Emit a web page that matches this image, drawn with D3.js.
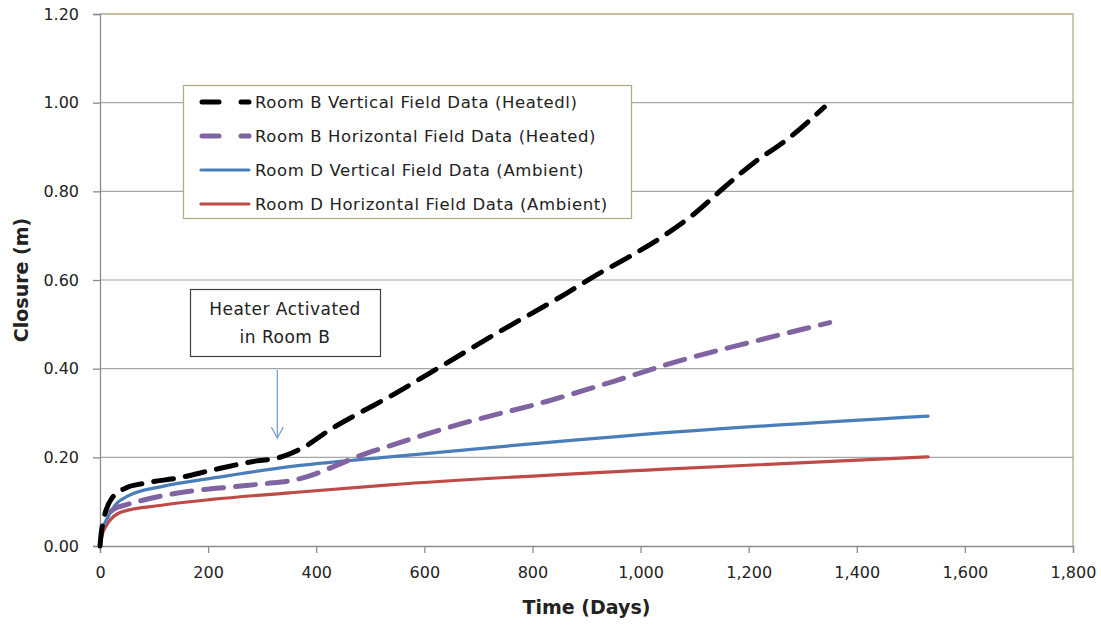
<!DOCTYPE html>
<html lang="en">
<head>
  <meta charset="UTF-8">
  <title>Closure vs Time</title>
  <script src="https://d3js.org/d3.v7.min.js"></script>
  <style>
    body { margin: 0; background: #fff; }
    svg text { font-family: "DejaVu Sans", "Liberation Sans", sans-serif; fill: #222; }
  </style>
</head>
<body>
<script>
  // Field data (days, closure in m)
  const bVertDays = [0, 3, 22, 50, 80, 151, 207, 290, 330, 345, 380, 425, 480, 536, 610, 734, 863, 918, 980, 1042, 1100, 1153, 1208, 1270, 1340];
  const bVertVals = [0, 0.036, 0.108, 0.132, 0.141, 0.155, 0.171, 0.192, 0.199, 0.205, 0.225, 0.262, 0.30, 0.337, 0.39, 0.48, 0.570, 0.611, 0.653, 0.699, 0.75, 0.807, 0.863, 0.916, 0.99];

  const bHorzDays = [20, 28, 46, 114, 176, 250, 308, 350, 382, 430, 475, 536, 672, 826, 949, 1067, 1221, 1350];
  const bHorzVals = [0.078, 0.085, 0.092, 0.113, 0.125, 0.134, 0.141, 0.147, 0.156, 0.178, 0.201, 0.226, 0.277, 0.326, 0.371, 0.416, 0.465, 0.504];

  const dVertDays = [0, 3, 15, 28, 52, 114, 207, 351, 536, 1073, 1532];
  const dVertVals = [0, 0.03, 0.066, 0.092, 0.113, 0.134, 0.153, 0.179, 0.201, 0.258, 0.293];

  const dHorzDays = [0, 3, 12, 40, 114, 207, 351, 536, 1036, 1532];
  const dHorzVals = [0, 0.02, 0.047, 0.077, 0.092, 0.105, 0.12, 0.138, 0.173, 0.201];

  const seriesNames = [
    "Room B Vertical Field Data (Heatedl)",
    "Room B Horizontal Field Data (Heated)",
    "Room D Vertical Field Data (Ambient)",
    "Room D Horizontal Field Data (Ambient)"
  ];
  const xTicks = [0, 200, 400, 600, 800, 1000, 1200, 1400, 1600, 1800];
  const yTicks = [0, 0.2, 0.4, 0.6, 0.8, 1.0, 1.2];

  const series = [
    { name: seriesNames[0], days: bVertDays, vals: bVertVals, color: "#000000", dash: "20,12" },
    { name: seriesNames[1], days: bHorzDays, vals: bHorzVals, color: "#8064a2", dash: "20,12" },
    { name: seriesNames[2], days: dVertDays, vals: dVertVals, color: "#4a7ebb", dash: null },
    { name: seriesNames[3], days: dHorzDays, vals: dHorzVals, color: "#be4b48", dash: null }
  ];

  const width = 1101, height = 625;
  const margin = { left: 100, right: 28, top: 14, bottom: 79 };

  const svg = d3.select("body").append("svg")
    .attr("width", width)
    .attr("height", height);

  const x = d3.scaleLinear().domain([0, 1800]).range([margin.left, width - margin.right]);
  const y = d3.scaleLinear().domain([0, 1.2]).range([height - margin.bottom, margin.top]);

  // gridlines
  svg.append("g").selectAll("line")
    .data(yTicks.slice(1, -1))
    .enter().append("line")
    .attr("x1", x(0)).attr("x2", x(1800))
    .attr("y1", d => y(d)).attr("y2", d => y(d))
    .attr("stroke", "#a6a6a6").attr("stroke-width", 1.2);

  // plot border top/right (tan)
  svg.append("path")
    .attr("d", `M${x(0)},${y(1.2)}H${x(1800)}V${y(0)}`)
    .attr("fill", "none").attr("stroke", "#b3ab84").attr("stroke-width", 1.3);

  // axes
  const yAxis = d3.axisLeft(y).tickValues(yTicks).tickFormat(d3.format(".2f")).tickSize(7).tickPadding(14);
  const gy = svg.append("g").attr("transform", `translate(${x(0)},0)`).call(yAxis);
  const xAxis = d3.axisBottom(x).tickValues(xTicks).tickFormat(d3.format(",")).tickSize(7).tickPadding(14);
  const gx = svg.append("g").attr("transform", `translate(0,${y(0)})`).call(xAxis);
  [gx, gy].forEach(g => {
    g.select(".domain").attr("stroke", "#8c8c8c").attr("stroke-width", 1.3);
    g.selectAll(".tick line").attr("stroke", "#8c8c8c").attr("stroke-width", 1.3);
    g.selectAll(".tick text").style("font-size", "16px").attr("fill", "#222");
  });

  // lines
  const line = d3.line()
    .x(d => x(d[0]))
    .y(d => y(d[1]))
    .curve(d3.curveMonotoneX);

  // solid first, dashed on top
  const drawOrder = [3, 2, 1, 0];
  drawOrder.forEach(i => {
    const s = series[i];
    const pts = s.days.map((dd, k) => [dd, s.vals[k]]);
    svg.append("path")
      .datum(pts)
      .attr("d", line)
      .attr("fill", "none")
      .attr("stroke", s.color)
      .attr("stroke-width", s.dash ? 5 : 3.2)
      .attr("stroke-linecap", "round")
      .attr("stroke-dasharray", s.dash);
  });

  // legend
  const leg = svg.append("g");
  leg.append("rect")
    .attr("x", 183.5).attr("y", 85.5)
    .attr("width", 448).attr("height", 133)
    .attr("fill", "#fff").attr("stroke", "#b3ab84").attr("stroke-width", 1.3);
  series.forEach((s, i) => {
    const ly = 102 + i * 34;
    if (s.dash) {
      leg.append("line").attr("x1", 202).attr("x2", 219).attr("y1", ly).attr("y2", ly)
        .attr("stroke", s.color).attr("stroke-width", 5).attr("stroke-linecap", "round");
      leg.append("line").attr("x1", 241).attr("x2", 249).attr("y1", ly).attr("y2", ly)
        .attr("stroke", s.color).attr("stroke-width", 5).attr("stroke-linecap", "round");
    } else {
      leg.append("line").attr("x1", 201).attr("x2", 249).attr("y1", ly).attr("y2", ly)
        .attr("stroke", s.color).attr("stroke-width", 3.2).attr("stroke-linecap", "round");
    }
    leg.append("text").attr("x", 255).attr("y", ly).attr("dy", "0.35em")
      .style("font-size", "16.5px").style("letter-spacing", "0.6px").text(s.name);
  });

  // annotation
  svg.append("rect")
    .attr("x", 190.5).attr("y", 289.5).attr("width", 190).attr("height", 67)
    .attr("fill", "#fff").attr("stroke", "#404040").attr("stroke-width", 1.2);
  svg.append("text").attr("x", 285).attr("y", 315).attr("text-anchor", "middle")
    .style("font-size", "17px").style("letter-spacing", "0.5px").text("Heater Activated");
  svg.append("text").attr("x", 285).attr("y", 343).attr("text-anchor", "middle")
    .style("font-size", "17px").style("letter-spacing", "0.5px").text("in Room B");
  const ax = x(328);
  svg.append("line").attr("x1", ax).attr("x2", ax).attr("y1", 370).attr("y2", 438)
    .attr("stroke", "#6a9bd0").attr("stroke-width", 1.2);
  svg.append("path").attr("d", `M${ax - 6},${427}L${ax},${438}L${ax + 6},${427}`)
    .attr("fill", "none").attr("stroke", "#6a9bd0").attr("stroke-width", 1.2);

  // axis titles
  svg.append("text")
    .attr("x", (x(0) + x(1800)) / 2).attr("y", 614)
    .attr("text-anchor", "middle")
    .style("font-size", "19px").style("font-weight", "bold")
    .text("Time (Days)");
  svg.append("text")
    .attr("transform", `translate(28,${(y(0) + y(1.2)) / 2}) rotate(-90)`)
    .attr("text-anchor", "middle")
    .style("font-size", "19px").style("font-weight", "bold")
    .text("Closure (m)");
</script>
</body>
</html>
